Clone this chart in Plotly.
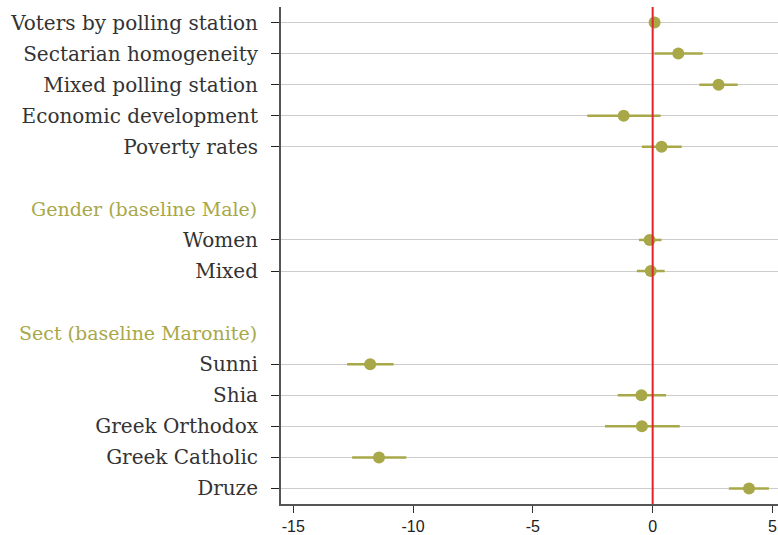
import plotly.graph_objects as go

# Coefficient estimates with 95% confidence intervals
controls = ["Voters by polling station", "Sectarian homogeneity", "Mixed polling station",
            "Economic development", "Poverty rates"]
controls_est = [0.08, 1.07, 2.75, -1.21, 0.37]
controls_lo = [-0.05, 0.07, 1.95, -2.73, -0.45]
controls_hi = [0.21, 2.09, 3.55, 0.33, 1.21]

gender_header = "Gender (baseline Male)"
gender = ["Women", "Mixed"]
gender_est = [-0.13, -0.08]
gender_lo = [-0.57, -0.66]
gender_hi = [0.37, 0.50]

sect_header = "Sect (baseline Maronite)"
sect = ["Sunni", "Shia", "Greek Orthodox", "Greek Catholic", "Druze"]
sect_est = [-11.79, -0.47, -0.45, -11.42, 4.02]
sect_lo = [-12.75, -1.46, -1.99, -12.54, 3.18]
sect_hi = [-10.81, 0.56, 1.13, -10.28, 4.85]

x_ticks = [-15, -10, -5, 0, 5]

OLIVE = "#a8a849"
RED = "#e3222b"
TEXT = "#333333"

# Lay out the rows top to bottom: group members, a blank row, then a header row
labels, est, lo, hi, rows = [], [], [], [], []
headers = []
row = 0
for header, names, e, l, h in [(None, controls, controls_est, controls_lo, controls_hi),
                               (gender_header, gender, gender_est, gender_lo, gender_hi),
                               (sect_header, sect, sect_est, sect_lo, sect_hi)]:
    if header is not None:
        row += 1  # spacer
        headers.append((header, row))
        row += 1
    for n, ei, li, hi_ in zip(names, e, l, h):
        labels.append(n)
        est.append(ei)
        lo.append(li)
        hi.append(hi_)
        rows.append(row)
        row += 1
n_rows = row

fig = go.Figure()
fig.add_trace(go.Scatter(
    x=est, y=rows, mode="markers",
    marker=dict(color=OLIVE, size=12, line=dict(width=0)),
    error_x=dict(type="data", symmetric=False,
                 array=[h - e for h, e in zip(hi, est)],
                 arrayminus=[e - l for e, l in zip(est, lo)],
                 color=OLIVE, thickness=2.5, width=0),
    showlegend=False, hoverinfo="skip",
))

# Reference line at zero
fig.add_shape(type="line", x0=0, x1=0, xref="x", y0=0, y1=1, yref="paper",
              line=dict(color=RED, width=2), layer="above")

for text, r in headers:
    fig.add_annotation(text=text, x=0, xref="paper", y=r, yref="y",
                       xanchor="right", yanchor="middle", xshift=-22, showarrow=False,
                       font=dict(family="DejaVu Serif", size=19, color=OLIVE))

fig.update_layout(
    width=778, height=535,
    margin=dict(l=281, r=0, t=7, b=31),
    paper_bgcolor="white", plot_bgcolor="white",
    xaxis=dict(range=[-15.51, 5.23], tickvals=x_ticks, ticktext=[str(t) for t in x_ticks],
               automargin=False,
               showgrid=False, zeroline=False, showline=True, linecolor="#555555", linewidth=2,
               ticks="outside", ticklen=7, tickcolor="#333333", tickwidth=1,
               tickfont=dict(family="Liberation Sans", size=16, color="#222222")),
    yaxis=dict(range=[n_rows - 0.5, -0.5], tickvals=rows, ticktext=labels,
               automargin=False,
               showgrid=True, gridcolor="#cccccc", gridwidth=1, zeroline=False,
               showline=True, linecolor="#555555", linewidth=2,
               ticks="outside", ticklen=8, tickcolor="#222222", tickwidth=1,
               ticklabelstandoff=9,
               tickfont=dict(family="DejaVu Serif", size=20, color=TEXT)),
)

fig.write_html("out.html")
